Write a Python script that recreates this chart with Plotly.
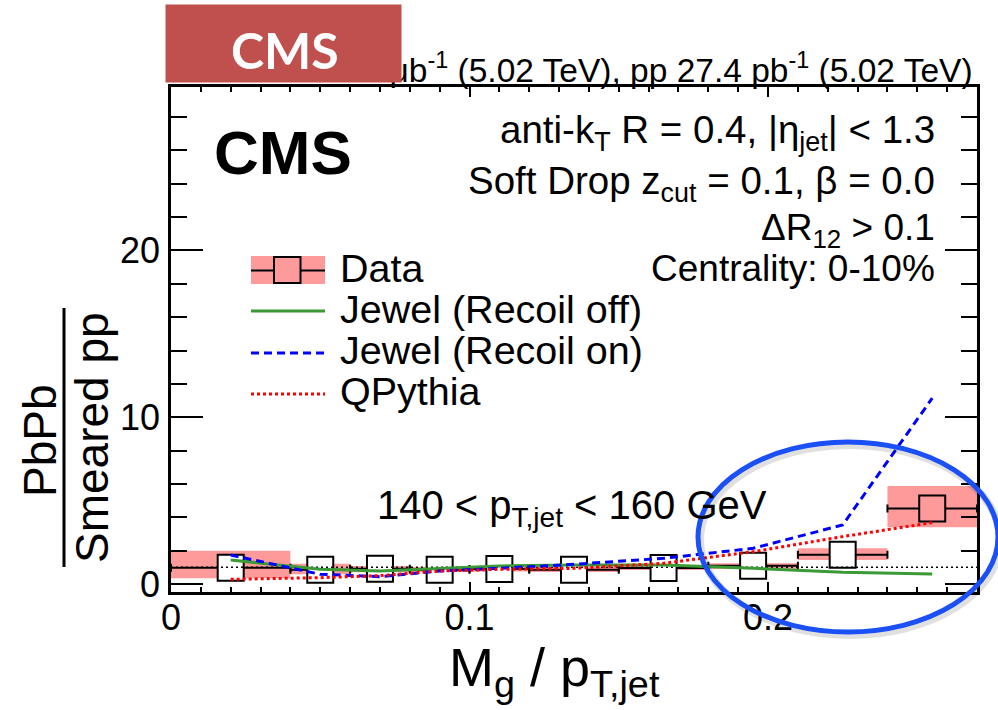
import plotly.graph_objects as go

# ---------------- data ----------------
bin_lo = [0.00, 0.04, 0.06, 0.08, 0.10, 0.12, 0.15, 0.18, 0.21, 0.24]
bin_hi = [0.04, 0.06, 0.08, 0.10, 0.12, 0.15, 0.18, 0.21, 0.24, 0.27]
x_center = [0.02, 0.05, 0.07, 0.09, 0.11, 0.135, 0.165, 0.195, 0.225, 0.255]
data_ratio = [0.97, 0.86, 0.91, 0.86, 0.90, 0.86, 0.96, 1.09, 1.76, 4.52]
sys_lo = [0.34, 0.58, 0.70, 0.72, 0.75, 0.72, 0.84, 0.90, 1.44, 3.40]
sys_hi = [2.00, 1.22, 1.08, 1.02, 1.05, 1.02, 1.14, 1.24, 2.14, 5.88]
jewel_recoil_off = [1.44, 0.88, 0.78, 0.94, 1.08, 1.14, 1.14, 0.94, 0.70, 0.60]
jewel_recoil_on = [1.74, 0.58, 0.44, 0.78, 0.94, 1.18, 1.54, 2.14, 3.54, 11.14]
qpythia = [0.28, 0.38, 0.50, 0.78, 0.88, 0.94, 1.24, 1.94, 2.84, 3.68]
ref_level = 1.0
x_range = [0.0, 0.27]
y_range = [-0.48, 29.8]
x_ticks = [0, 0.1, 0.2]
x_ticklabels = ["0", "0.1", "0.2"]
y_ticks = [0, 10, 20]
y_ticklabels = ["0", "10", "20"]

# ---------------- geometry helpers ----------------
W_PX, H_PX = 998, 710
L, R, T, B = 171, 977, 87, 592
PW, PH = R - L, B - T


def px(xp):
    return (xp - L) / PW


def py(yp):
    return (B - yp) / PH


PINK = "#ff9a9a"
GREEN = "#3a9a35"
BLUE = "#0000ff"
RED = "#ff0000"
FONT = "Liberation Sans, Arial, sans-serif"

fig = go.Figure()

# systematic uncertainty boxes
fig.add_trace(go.Bar(
    x=x_center,
    y=[h - l for h, l in zip(sys_hi, sys_lo)],
    base=sys_lo,
    width=[h - l for h, l in zip(bin_hi, bin_lo)],
    marker=dict(color=PINK, line=dict(width=0)),
    hoverinfo="skip",
))

# data points
fill = ["white"] * (len(x_center) - 1) + [PINK]
fig.add_trace(go.Scatter(
    x=x_center, y=data_ratio, mode="markers",
    marker=dict(symbol="square", size=26, color=fill,
                line=dict(color="black", width=2)),
    error_x=dict(type="data", symmetric=False,
                 array=[h - c for h, c in zip(bin_hi, x_center)],
                 arrayminus=[c - l for c, l in zip(x_center, bin_lo)],
                 color="black", thickness=2, width=4),
))

# reference line at 1
fig.add_trace(go.Scatter(
    x=x_range, y=[ref_level, ref_level], mode="lines",
    line=dict(color="black", width=1.5, dash="2px,3px"),
))

# model curves
fig.add_trace(go.Scatter(x=x_center, y=jewel_recoil_off, mode="lines",
                         line=dict(color=GREEN, width=3)))
fig.add_trace(go.Scatter(x=x_center, y=jewel_recoil_on, mode="lines",
                         line=dict(color=BLUE, width=3, dash="8px,5px")))
fig.add_trace(go.Scatter(x=x_center, y=qpythia, mode="lines",
                         line=dict(color=RED, width=3, dash="3px,3px")))

axis_common = dict(
    showline=True, linecolor="black", linewidth=2.5, mirror="ticks",
    ticks="inside", tickcolor="black", tickwidth=1.5,
    showgrid=False, zeroline=False,
    tickfont=dict(family=FONT, size=36, color="black"),
)

fig.update_xaxes(
    range=x_range, tickvals=x_ticks, ticktext=x_ticklabels, ticklen=10,
    minor=dict(dtick=0.01, ticklen=5, ticks="inside", tickcolor="black",
               tickwidth=1.5, showgrid=False),
    ticklabelstandoff=-8,
    **axis_common,
)
fig.update_yaxes(
    range=y_range, tickvals=y_ticks, ticktext=y_ticklabels, ticklen=32,
    minor=dict(dtick=2, ticklen=16, ticks="inside", tickcolor="black",
               tickwidth=1.5, showgrid=False),
    ticklabelstandoff=1,
    **axis_common,
)

ann = []


def text(xp, yp, s, size=37, xanchor="left", yanchor="middle", color="black",
         family=FONT, textangle=0):
    ann.append(dict(x=px(xp), y=py(yp), xref="paper", yref="paper", text=s,
                    showarrow=False, xanchor=xanchor, yanchor=yanchor,
                    textangle=textangle,
                    font=dict(family=family, size=size, color=color)))


# header (partially hidden behind the banner)
text(975, 68, "PbPb 404 μb<sup>-1</sup> (5.02 TeV), pp 27.4 pb<sup>-1</sup> (5.02 TeV)",
     size=33.5, xanchor="right")
# red CMS banner on top
ann.append(dict(x=px(283.5), y=py(43.5), xref="paper", yref="paper",
                text=" ", showarrow=False, xanchor="center",
                yanchor="middle", width=235, height=77, bgcolor="#c0504d",
                borderpad=0, font=dict(size=10)))
ann.append(dict(x=px(285), y=py(50), xref="paper", yref="paper",
                text="<b>CMS</b>", showarrow=False, xanchor="center",
                yanchor="middle",
                font=dict(family="Lato, Open Sans, sans-serif", size=50,
                          color="white")))

# in-frame labels
text(212, 152, "<b>CMS</b>", size=62)
text(937, 132, "anti-k<sub>T</sub> R = 0.4, |η<sub>jet</sub>| < 1.3", size=38.5,
     xanchor="right")
text(937, 184, "Soft Drop z<sub>cut</sub> = 0.1, β = 0.0", size=38.5,
     xanchor="right")
text(937, 230, "ΔR<sub>12</sub> > 0.1", xanchor="right")
text(937, 268, "Centrality: 0-10%", xanchor="right")
text(375, 508, "140 < p<sub>T,jet</sub> < 160 GeV", size=40)

# legend texts
text(338, 268, "Data", size=39.5)
text(338, 309, "Jewel (Recoil off)", size=39.5)
text(338, 350, "Jewel (Recoil on)", size=39.5)
text(338, 391, "QPythia", size=39.5)

# axis titles
text(554, 671, "M<sub>g</sub> / p<sub>T,jet</sub>", size=54, xanchor="center")
text(40, 441, "PbPb", size=46, xanchor="center", textangle=-90)
text(92, 438, "Smeared pp", size=46, xanchor="center", textangle=-90)

shapes = []


def line(x0, y0, x1, y1, color, width, dash="solid"):
    shapes.append(dict(type="line", xref="paper", yref="paper",
                       x0=px(x0), y0=py(y0), x1=px(x1), y1=py(y1),
                       line=dict(color=color, width=width, dash=dash)))


# fraction bar of the y title
line(64, 308, 64, 567, "black", 3)

# legend glyphs
shapes.append(dict(type="rect", xref="paper", yref="paper",
                   x0=px(251), x1=px(325), y0=py(284), y1=py(256),
                   fillcolor=PINK, line=dict(width=0)))
line(251, 270.5, 325, 270.5, "black", 2)
shapes.append(dict(type="rect", xref="paper", yref="paper",
                   x0=px(274), x1=px(300.5), y0=py(283), y1=py(257),
                   fillcolor=PINK, line=dict(color="black", width=2)))
line(251, 311, 325, 311, GREEN, 3)
line(251, 353, 325, 353, BLUE, 3, "8px,5px")
line(251, 394, 325, 394, RED, 3, "3px,3px")

# highlight ellipse (with soft shadow)
shapes.append(dict(type="circle", xref="paper", yref="paper", layer="above",
                   x0=px(700), x1=px(1000), y0=py(635), y1=py(445),
                   line=dict(color="rgba(0,0,0,0.12)", width=8)))
shapes.append(dict(type="circle", xref="paper", yref="paper", layer="above",
                   x0=px(698), x1=px(998), y0=py(632), y1=py(442),
                   line=dict(color="#1a50f5", width=5)))

fig.update_layout(
    width=W_PX, height=H_PX,
    margin=dict(l=L, r=W_PX - R, t=T, b=H_PX - B, pad=0),
    plot_bgcolor="white", paper_bgcolor="white",
    showlegend=False, barmode="overlay",
    annotations=ann, shapes=shapes,
)

fig.write_html("out.html")
